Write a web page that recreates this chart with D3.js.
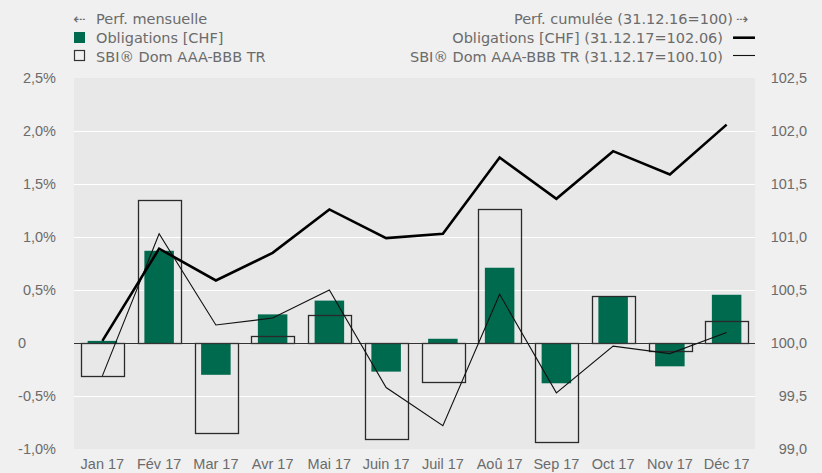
<!DOCTYPE html>
<html>
<head>
<meta charset="utf-8">
<script src="https://cdn.jsdelivr.net/npm/d3@7"></script>
<style>
    body { margin: 0; background: #f0f0f0; }
    svg { display: block; font-family: "DejaVu Sans", sans-serif; }
</style>
</head>
<body>
<svg width="822" height="473"></svg>
<script>
const width = 822;
const height = 473;
const margin = { top: 78, right: 67, bottom: 23.5, left: 74 };

const months = ["Jan 17", "Fév 17", "Mar 17", "Avr 17", "Mai 17", "Juin 17",
    "Juil 17", "Aoû 17", "Sep 17", "Oct 17", "Nov 17", "Déc 17"];
// monthly performance in %
const fundMonthly = [0.02, 0.87, -0.30, 0.27, 0.40, -0.27, 0.04, 0.71, -0.38, 0.44, -0.22, 0.455];
const indexMonthly = [-0.31, 1.35, -0.85, 0.066, 0.26, -0.91, -0.37, 1.26, -0.93, 0.44, -0.08, 0.21];
// cumulated performance (31.12.16=100)
const fundCumul = [100.02, 100.89, 100.59, 100.85, 101.26, 100.99, 101.03, 101.75, 101.36, 101.81, 101.59, 102.06];
const indexCumul = [99.69, 101.03, 100.17, 100.235, 100.50, 99.58, 99.22, 100.46, 99.53, 99.97, 99.90, 100.10];

const leftTicks = [-1, -0.5, 0, 0.5, 1, 1.5, 2, 2.5];
const leftLabels = ["-1,0%", "-0,5%", "0", "0,5%", "1,0%", "1,5%", "2,0%", "2,5%"];
const rightTicks = [99, 99.5, 100, 100.5, 101, 101.5, 102, 102.5];
const rightLabels = ["99,0", "99,5", "100,0", "100,5", "101,0", "101,5", "102,0", "102,5"];

const green = "#006a4e";
const textColor = "#6b6b6b";

const svg = d3.select("svg");

const x = d3
    .scaleBand()
    .domain(months)
    .range([margin.left, width - margin.right]);
const y = d3
    .scaleLinear()
    .domain([-1, 2.5])
    .range([height - margin.bottom - 0.5, margin.top]);
const y2 = d3
    .scaleLinear()
    .domain([99, 102.5])
    .range(y.range());

// plot background
svg.append("rect")
    .attr("x", margin.left)
    .attr("y", margin.top)
    .attr("width", width - margin.left - margin.right)
    .attr("height", y(-1) - margin.top)
    .attr("fill", "#e8e8e8");

// grid lines
svg.append("g")
    .selectAll("line")
    .data(leftTicks.filter((d) => d > -1 && d < 2.5 && d !== 0))
    .join("line")
    .attr("x1", margin.left)
    .attr("x2", width - margin.right)
    .attr("y1", (d) => Math.round(y(d)) + 0.5)
    .attr("y2", (d) => Math.round(y(d)) + 0.5)
    .attr("stroke", "#fff")
    .attr("stroke-width", 1.2);

// left axis labels
const yAxis = d3
    .axisLeft(y)
    .tickValues(leftTicks)
    .tickSize(0)
    .tickPadding(0)
    .tickFormat((d, i) => leftLabels[i]);
svg.append("g")
    .attr("transform", "translate(56,0)")
    .call(yAxis)
    .call((g) => g.select(".domain").remove())
    .call((g) =>
        g.selectAll("text")
            .attr("fill", textColor)
            .style("font-size", "14.5px")
            .style("font-family", null)
    )
    .call((g) =>
        g.selectAll(".tick")
            .filter((d) => d === 0)
            .select("text")
            .attr("text-anchor", "start")
            .attr("x", -38)
    );

// right axis labels
const yAxis2 = d3
    .axisRight(y2)
    .tickValues(rightTicks)
    .tickSize(0)
    .tickPadding(0)
    .tickFormat((d, i) => rightLabels[i]);
svg.append("g")
    .attr("transform", "translate(807,0)")
    .call(yAxis2)
    .call((g) => g.select(".domain").remove())
    .call((g) =>
        g.selectAll("text")
            .attr("text-anchor", "end")
            .attr("fill", textColor)
            .style("font-size", "14.5px")
            .style("font-family", null)
    );

// x axis labels
const xAxis = d3.axisBottom(x).tickSize(0).tickPadding(0);
svg.append("g")
    .attr("transform", `translate(0,${height - 14.5})`)
    .call(xAxis)
    .call((g) => g.select(".domain").remove())
    .call((g) =>
        g.selectAll("text")
            .attr("dy", null)
            .attr("y", 10.5)
            .attr("fill", textColor)
            .style("font-size", "14.5px")
            .style("font-family", null)
    );

// monthly bars: fund (filled)
const greenW = x.bandwidth() * 0.52;
svg.append("g")
    .selectAll("rect")
    .data(fundMonthly)
    .join("rect")
    .attr("x", (d, i) => x(months[i]) + (x.bandwidth() - greenW) / 2)
    .attr("y", (d) => y(Math.max(0, d)))
    .attr("width", greenW)
    .attr("height", (d) => Math.abs(y(d) - y(0)))
    .attr("fill", green);

// monthly bars: index (outline)
const boxW = x.bandwidth() * 0.75;
svg.append("g")
    .selectAll("rect")
    .data(indexMonthly)
    .join("rect")
    .attr("x", (d, i) => Math.round(x(months[i]) + (x.bandwidth() - boxW) / 2) + 0.5)
    .attr("y", (d) => Math.round(y(Math.max(0, d))) + 0.5)
    .attr("width", Math.round(boxW))
    .attr("height", (d) => Math.round(Math.abs(y(d) - y(0))))
    .attr("fill", "none")
    .attr("stroke", "#2a2a2a")
    .attr("stroke-width", 1.3);

// zero line
svg.append("line")
    .attr("x1", margin.left)
    .attr("x2", width - margin.right)
    .attr("y1", Math.round(y(0)) + 0.5)
    .attr("y2", Math.round(y(0)) + 0.5)
    .attr("stroke", "#333")
    .attr("stroke-width", 1.2);

// cumulated lines
const line = d3
    .line()
    .x((d, i) => x(months[i]) + x.bandwidth() / 2)
    .y((d) => y2(d));

svg.append("path")
    .datum(indexCumul)
    .attr("d", line)
    .attr("fill", "none")
    .attr("stroke", "#111")
    .attr("stroke-width", 1.1);

svg.append("path")
    .datum(fundCumul)
    .attr("d", line)
    .attr("fill", "none")
    .attr("stroke", "#000")
    .attr("stroke-width", 2.6);

// legend
const legend = svg.append("g")
    .style("font-size", "14.5px")
    .attr("fill", textColor);

legend.append("text").attr("x", 73).attr("y", 23.5).text("⇠");
legend.append("text").attr("x", 96).attr("y", 24).text("Perf. mensuelle");
legend.append("rect")
    .attr("x", 74).attr("y", 32).attr("width", 11).attr("height", 11)
    .attr("fill", green);
legend.append("text").attr("x", 96).attr("y", 43.3).text("Obligations [CHF]");
legend.append("rect")
    .attr("x", 74.5).attr("y", 50.5).attr("width", 10).attr("height", 10)
    .attr("fill", "none").attr("stroke", "#333").attr("stroke-width", 1.2);
legend.append("text").attr("x", 96).attr("y", 61.7).text("SBI® Dom AAA-BBB TR");

legend.append("text").attr("x", 733).attr("y", 24).attr("text-anchor", "end")
    .text("Perf. cumulée (31.12.16=100)");
legend.append("text").attr("x", 736).attr("y", 23.5).text("⇢");
legend.append("text").attr("x", 723).attr("y", 43.3).attr("text-anchor", "end")
    .text("Obligations [CHF] (31.12.17=102.06)");
legend.append("line")
    .attr("x1", 733).attr("x2", 755).attr("y1", 37.7).attr("y2", 37.7)
    .attr("stroke", "#000").attr("stroke-width", 2.6);
legend.append("text").attr("x", 723).attr("y", 61.7).attr("text-anchor", "end")
    .text("SBI® Dom AAA-BBB TR (31.12.17=100.10)");
legend.append("line")
    .attr("x1", 733).attr("x2", 755).attr("y1", 55.5).attr("y2", 55.5)
    .attr("stroke", "#111").attr("stroke-width", 1.1);
</script>
</body>
</html>
